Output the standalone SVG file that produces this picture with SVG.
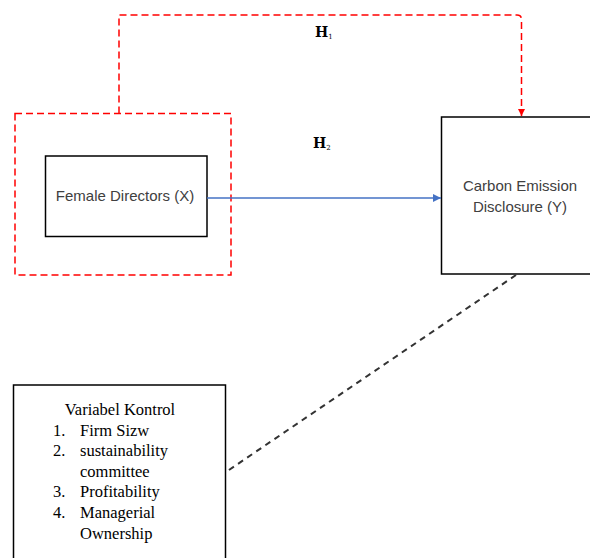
<svg xmlns="http://www.w3.org/2000/svg" width="590" height="558" viewBox="0 0 590 558">
<style>
.box{fill:#fff;stroke:#000;stroke-width:1.5}
.sans{font-family:"Liberation Sans",Arial,sans-serif;font-size:15px;fill:#404040}
.serif{font-family:"Liberation Serif","Times New Roman",serif;font-size:16.5px;fill:#000}
.h{font-family:"DejaVu Serif","Liberation Serif",serif;font-size:14px;font-weight:bold;fill:#000}
.red{fill:none;stroke:#ff0000;stroke-width:1.5;stroke-dasharray:7,4}
</style>
<defs>
<marker id="ar" viewBox="0 0 10 10" refX="10" refY="5" markerWidth="7" markerHeight="7" markerUnits="userSpaceOnUse" orient="auto"><path d="M0,0 L10,5 L0,10 z" fill="#ff0000"/></marker>
<marker id="ab" viewBox="0 0 10 10" refX="10" refY="5" markerWidth="8" markerHeight="8" markerUnits="userSpaceOnUse" orient="auto"><path d="M0,0 L10,5 L0,10 z" fill="#4472c4"/></marker>
</defs>
<g id="group-x">
<rect class="red" x="15" y="113.5" width="216" height="161.5"/>
</g>
<g id="node-x">
<rect class="box" x="45.5" y="156" width="161.5" height="80.5"/>
<text class="sans" x="125" y="201" text-anchor="middle">Female Directors (X)</text>
</g>
<g id="node-y">
<rect class="box" x="441.5" y="117" width="160" height="157"/>
<text class="sans" x="520" y="191" text-anchor="middle">Carbon Emission</text>
<text class="sans" x="520" y="212" text-anchor="middle">Disclosure (Y)</text>
</g>
<g id="node-control">
<rect class="box" x="13.5" y="385" width="212" height="190"/>
<text class="serif" x="120" y="415" text-anchor="middle">Variabel Kontrol</text>
<text class="serif" x="53" y="436">1.</text><text class="serif" x="80" y="436">Firm Sizw</text>
<text class="serif" x="53" y="456">2.</text><text class="serif" x="80" y="456">sustainability</text>
<text class="serif" x="80" y="477">committee</text>
<text class="serif" x="53" y="497">3.</text><text class="serif" x="80" y="497">Profitability</text>
<text class="serif" x="53" y="518">4.</text><text class="serif" x="80" y="518">Managerial</text>
<text class="serif" x="80" y="539">Ownership</text>
</g>
<g id="connectors">
<path class="red" d="M119,113.5 V15 H517 Q521.5,15 521.5,19.5 V116" marker-end="url(#ar)"/>
<line x1="207" y1="198" x2="441" y2="198" stroke="#4472c4" stroke-width="1.3" marker-end="url(#ab)"/>
<line x1="516" y1="275" x2="226" y2="472" stroke="#333" stroke-width="2" stroke-dasharray="6,5"/>
</g>
<g id="labels">
<text class="h" x="315" y="37">H<tspan font-size="7" font-weight="normal" dy="2">1</tspan></text>
<text class="h" x="313" y="148">H<tspan font-size="7" font-weight="normal" dy="2">2</tspan></text>
</g>
</svg>
